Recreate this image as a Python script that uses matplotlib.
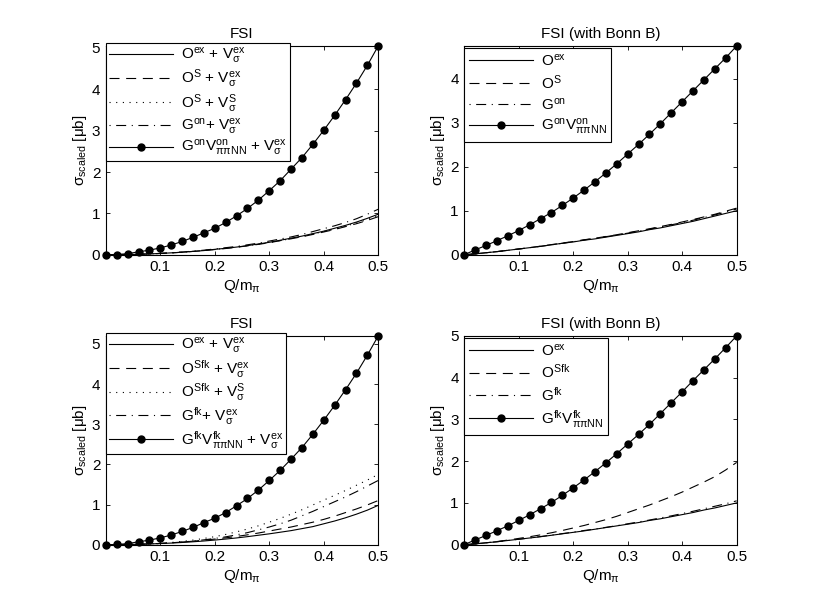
import matplotlib
matplotlib.use("Agg")
import matplotlib.pyplot as plt

plt.rcParams['font.family'] = ['Liberation Sans', 'DejaVu Sans']
plt.rcParams['mathtext.fontset'] = 'custom'
plt.rcParams['mathtext.rm'] = 'Liberation Sans'
plt.rcParams['mathtext.it'] = 'Liberation Sans'
plt.rcParams['mathtext.sf'] = 'Liberation Sans'
plt.rcParams['font.size'] = 11

# ---------------- data ----------------
Q = [0.00, 0.02, 0.04, 0.06, 0.08, 0.10, 0.12, 0.14, 0.16, 0.18, 0.20, 0.22, 0.24,
     0.26, 0.28, 0.30, 0.32, 0.34, 0.36, 0.38, 0.40, 0.42, 0.44, 0.46, 0.48, 0.50]

# top-left: FSI
tl_OexVex = [0, 0.001, 0.004, 0.01, 0.02, 0.03, 0.045, 0.06, 0.08, 0.10, 0.13, 0.155, 0.185,
             0.22, 0.26, 0.30, 0.35, 0.40, 0.45, 0.51, 0.57, 0.64, 0.71, 0.79, 0.88, 0.98]
tl_OSVex = [0, 0.001, 0.004, 0.01, 0.02, 0.03, 0.044, 0.06, 0.08, 0.10, 0.125, 0.15, 0.18,
            0.215, 0.25, 0.29, 0.34, 0.385, 0.435, 0.49, 0.55, 0.61, 0.68, 0.75, 0.83, 0.92]
tl_OSVS = [0, 0.001, 0.004, 0.01, 0.02, 0.03, 0.045, 0.06, 0.08, 0.10, 0.13, 0.155, 0.185,
           0.22, 0.255, 0.295, 0.34, 0.39, 0.44, 0.50, 0.56, 0.62, 0.69, 0.77, 0.85, 0.95]
tl_GonVex = [0, 0.001, 0.004, 0.011, 0.021, 0.033, 0.048, 0.065, 0.086, 0.11, 0.14, 0.17, 0.20,
             0.24, 0.28, 0.33, 0.38, 0.43, 0.49, 0.56, 0.63, 0.70, 0.78, 0.87, 0.98, 1.10]
tl_main = [0, 0.005, 0.025, 0.07, 0.11, 0.165, 0.235, 0.32, 0.42, 0.53, 0.64, 0.78, 0.94,
           1.12, 1.32, 1.55, 1.79, 2.07, 2.35, 2.67, 3.01, 3.37, 3.75, 4.15, 4.58, 5.05]

# top-right: FSI (with Bonn B)
tr_Oex = [0, 0.02, 0.045, 0.07, 0.10, 0.13, 0.16, 0.19, 0.225, 0.26, 0.29, 0.33, 0.36,
          0.40, 0.44, 0.48, 0.52, 0.57, 0.61, 0.66, 0.71, 0.76, 0.82, 0.88, 0.94, 1.00]
tr_OS = [0, 0.02, 0.045, 0.07, 0.10, 0.13, 0.16, 0.195, 0.23, 0.265, 0.30, 0.34, 0.375,
         0.415, 0.455, 0.50, 0.545, 0.59, 0.64, 0.69, 0.745, 0.80, 0.86, 0.92, 0.99, 1.06]
tr_Gon = [0, 0.02, 0.045, 0.07, 0.10, 0.13, 0.16, 0.19, 0.225, 0.26, 0.295, 0.335, 0.37,
          0.41, 0.45, 0.49, 0.535, 0.58, 0.63, 0.68, 0.73, 0.785, 0.845, 0.905, 0.97, 1.04]
tr_main = [0, 0.11, 0.21, 0.32, 0.43, 0.55, 0.68, 0.82, 0.96, 1.12, 1.29, 1.47, 1.66,
           1.86, 2.07, 2.29, 2.51, 2.74, 2.98, 3.23, 3.48, 3.73, 3.98, 4.23, 4.48, 4.75]

# bottom-left: FSI (fk)
bl_OexVex = [0, 0.001, 0.004, 0.01, 0.018, 0.028, 0.04, 0.055, 0.072, 0.092, 0.115, 0.14, 0.168,
             0.20, 0.235, 0.27, 0.31, 0.35, 0.40, 0.45, 0.52, 0.59, 0.67, 0.76, 0.86, 0.98]
bl_OSfkVex = [0, 0.001, 0.004, 0.01, 0.02, 0.032, 0.047, 0.065, 0.087, 0.112, 0.14, 0.17, 0.205,
              0.245, 0.29, 0.34, 0.39, 0.44, 0.50, 0.56, 0.63, 0.71, 0.80, 0.89, 0.99, 1.10]
bl_OSfkVS = [0, 0.001, 0.004, 0.01, 0.02, 0.035, 0.055, 0.082, 0.115, 0.155, 0.20, 0.255, 0.32,
             0.39, 0.47, 0.56, 0.655, 0.76, 0.87, 0.99, 1.11, 1.23, 1.35, 1.48, 1.61, 1.75]
bl_GfkVex = [0, 0.001, 0.004, 0.009, 0.018, 0.03, 0.045, 0.065, 0.09, 0.12, 0.155, 0.195, 0.245,
             0.30, 0.37, 0.44, 0.52, 0.61, 0.72, 0.83, 0.95, 1.07, 1.19, 1.32, 1.46, 1.60]
bl_main = [0, 0.005, 0.026, 0.072, 0.113, 0.17, 0.24, 0.33, 0.43, 0.55, 0.66, 0.80, 0.97,
           1.15, 1.36, 1.60, 1.85, 2.13, 2.42, 2.75, 3.10, 3.47, 3.86, 4.27, 4.72, 5.20]

# bottom-right: FSI (with Bonn B, fk)
br_Oex = [0, 0.02, 0.045, 0.07, 0.10, 0.13, 0.16, 0.19, 0.225, 0.26, 0.295, 0.33, 0.37,
          0.41, 0.45, 0.49, 0.53, 0.58, 0.62, 0.67, 0.72, 0.77, 0.83, 0.88, 0.94, 1.00]
br_OSfk = [0, 0.02, 0.045, 0.075, 0.11, 0.15, 0.19, 0.235, 0.285, 0.34, 0.40, 0.46, 0.53,
           0.60, 0.68, 0.77, 0.86, 0.95, 1.05, 1.15, 1.26, 1.38, 1.50, 1.63, 1.79, 1.97]
br_Gfk = [0, 0.02, 0.045, 0.07, 0.10, 0.13, 0.16, 0.195, 0.23, 0.265, 0.30, 0.34, 0.375,
          0.415, 0.455, 0.50, 0.545, 0.59, 0.64, 0.69, 0.745, 0.80, 0.86, 0.92, 0.98, 1.05]
br_main = [0, 0.115, 0.22, 0.335, 0.45, 0.58, 0.715, 0.86, 1.01, 1.18, 1.36, 1.55, 1.75,
           1.96, 2.18, 2.41, 2.64, 2.88, 3.14, 3.40, 3.66, 3.93, 4.19, 4.45, 4.72, 5.00]

xticks = [0.1, 0.2, 0.3, 0.4, 0.5]
titles = ['FSI', 'FSI (with Bonn B)', 'FSI', 'FSI (with Bonn B)']

lab_tl = [r'O$^{\mathrm{ex}}$ + V$^{\mathrm{ex}}_{\sigma}$',
          r'O$^{\mathrm{S}}$ + V$^{\mathrm{ex}}_{\sigma}$',
          r'O$^{\mathrm{S}}$ + V$^{\mathrm{S}}_{\sigma}$',
          r'G$^{\mathrm{on}}$+ V$^{\mathrm{ex}}_{\sigma}$',
          r'G$^{\mathrm{on}}$V$^{\mathrm{on}}_{\pi\pi\mathrm{NN}}$ + V$^{\mathrm{ex}}_{\sigma}$']
lab_tr = [r'O$^{\mathrm{ex}}$', r'O$^{\mathrm{S}}$', r'G$^{\mathrm{on}}$',
          r'G$^{\mathrm{on}}$V$^{\mathrm{on}}_{\pi\pi\mathrm{NN}}$']
lab_bl = [r'O$^{\mathrm{ex}}$ + V$^{\mathrm{ex}}_{\sigma}$',
          r'O$^{\mathrm{Sfk}}$ + V$^{\mathrm{ex}}_{\sigma}$',
          r'O$^{\mathrm{Sfk}}$ + V$^{\mathrm{S}}_{\sigma}$',
          r'G$^{\mathrm{fk}}$+ V$^{\mathrm{ex}}_{\sigma}$',
          r'G$^{\mathrm{fk}}$V$^{\mathrm{fk}}_{\pi\pi\mathrm{NN}}$ + V$^{\mathrm{ex}}_{\sigma}$']
lab_br = [r'O$^{\mathrm{ex}}$', r'O$^{\mathrm{Sfk}}$', r'G$^{\mathrm{fk}}$',
          r'G$^{\mathrm{fk}}$V$^{\mathrm{fk}}_{\pi\pi\mathrm{NN}}$']

# ---------------- plotting ----------------
fig = plt.figure(figsize=(8.14, 6.12), dpi=100)
positions = [[0.13, 0.5838, 0.3347, 0.3412], [0.5703, 0.5838, 0.3347, 0.3412],
             [0.13, 0.11, 0.3347, 0.3412], [0.5703, 0.11, 0.3347, 0.3412]]

LW = 0.8
solid = dict(color='k', lw=LW, ls='-')
dashed = dict(color='k', lw=LW, ls=(0, (9, 6)))
dotted = dict(color='k', lw=LW, ls=(0, (1, 5)))
dashdot = dict(color='k', lw=LW, ls=(0, (1, 5, 9, 5)))
marked = dict(color='k', lw=LW, ls='-', marker='o', markersize=5,
              markerfacecolor='k', markeredgecolor='k')

panels = [
    ([tl_OexVex, tl_OSVex, tl_OSVS, tl_GonVex, tl_main], [solid, dashed, dotted, dashdot, marked], lab_tl),
    ([tr_Oex, tr_OS, tr_Gon, tr_main], [solid, dashed, dashdot, marked], lab_tr),
    ([bl_OexVex, bl_OSfkVex, bl_OSfkVS, bl_GfkVex, bl_main], [solid, dashed, dotted, dashdot, marked], lab_bl),
    ([br_Oex, br_OSfk, br_Gfk, br_main], [solid, dashed, dashdot, marked], lab_br),
]

for i, (pos, (series, styles, labels)) in enumerate(zip(positions, panels)):
    ax = fig.add_axes(pos)
    for ys, st, lb in zip(series, styles, labels):
        ax.plot(Q, ys, label=lb, clip_on=False, **st)
    ymax = max(series[-1])
    ax.set_xlim(0, 0.5)
    ax.set_ylim(0, ymax)
    ax.set_xticks(xticks)
    ax.set_xticklabels([f'{t:g}' for t in xticks])
    ax.set_yticks([t for t in range(0, 6) if t <= ymax + 1e-9])
    ax.tick_params(direction='in', top=True, right=True, length=3, width=0.6, labelsize=11, pad=4)
    for s in ax.spines.values():
        s.set_linewidth(0.8)
    ax.set_title(titles[i], fontsize=11, pad=6)
    ax.set_xlabel(r'Q/m$_{\pi}$', fontsize=11, labelpad=2)
    ax.set_ylabel(r'$\sigma_{\mathrm{scaled}}$ [$\mu$b]', fontsize=11, labelpad=2)
    five = i in (0, 2)
    leg = ax.legend(loc='upper left', bbox_to_anchor=(0.0, 1.015 if five else 0.99),
                    frameon=True, fancybox=False, edgecolor='k', framealpha=1,
                    handlelength=4.2, numpoints=1, fontsize=11,
                    borderpad=0.2 if five else 0.3,
                    labelspacing=0.12 if five else 0.3,
                    handletextpad=0.5, borderaxespad=0.0)
    leg.get_frame().set_linewidth(0.8)

fig.savefig('out.png', dpi=100)
